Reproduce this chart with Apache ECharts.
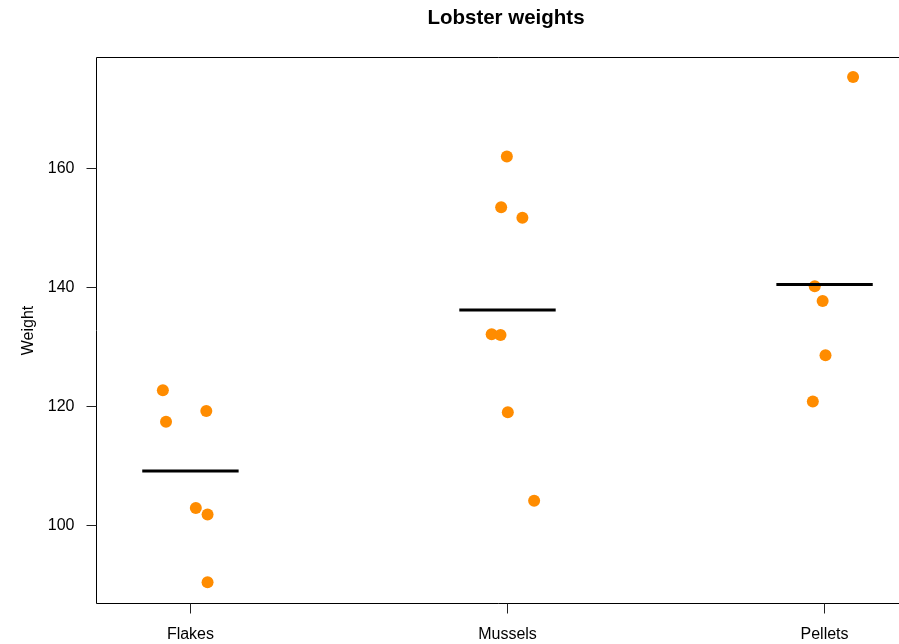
<!DOCTYPE html>
<html>
<head>
<meta charset="utf-8">
<script src="https://cdn.jsdelivr.net/npm/echarts@6/dist/echarts.min.js"></script>
<style>
html,body{margin:0;padding:0;background:#fff;}
#chart{width:899px;height:644px;}
</style>
</head>
<body>
<div id="chart"></div>
<script>
// ---- data ----
const categories = ["Flakes", "Mussels", "Pellets"];
const flakesWeight  = [122.7, 119.2, 117.4, 102.9, 101.8, 90.4];
const flakesJitter  = [-0.087, 0.050, -0.077, 0.017, 0.054, 0.054];
const musselsWeight = [162.0, 153.5, 151.7, 132.1, 132.0, 119.0, 104.1];
const musselsJitter = [-0.002, -0.020, 0.047, -0.050, -0.022, 0.001, 0.084];
const pelletsWeight = [175.4, 140.2, 137.7, 128.6, 120.8];
const pelletsJitter = [0.090, -0.031, -0.006, 0.003, -0.037];
const groupMeans = [109.1, 136.2, 140.5];
const yTicks = [100, 120, 140, 160];
const xTicks = [1, 2, 3];

const weights = [flakesWeight, musselsWeight, pelletsWeight];
const jitters = [flakesJitter, musselsJitter, pelletsJitter];

const pts = [];
weights.forEach((arr, g) => {
  arr.forEach((w, i) => pts.push([g + 1 + jitters[g][i], w]));
});

const HALF = 0.152;
const meanSeries = groupMeans.map((m, g) => ({
  type: 'line',
  data: [[g + 1 - HALF, m], [g + 1 + HALF, m]],
  symbol: 'none',
  silent: true,
  lineStyle: { color: '#000', width: 3, cap: 'butt' },
  z: 3
}));

const FONT = '"Liberation Sans", Arial, sans-serif';

const chart = echarts.init(document.getElementById('chart'), null, { renderer: 'canvas' });
chart.setOption({
  animation: false,
  backgroundColor: '#fff',
  title: {
    text: 'Lobster weights',
    left: 501,
    top: 3,
    textAlign: 'center',
    textStyle: { fontFamily: FONT, fontSize: 20.5, fontWeight: 'bold', color: '#000' }
  },
  grid: {
    left: 96.5, top: 57.5, width: 822, height: 546,
    outerBoundsMode: 'none',
    show: true, borderColor: '#000', borderWidth: 1, backgroundColor: 'transparent',
    containLabel: false
  },
  xAxis: {
    type: 'value',
    min: 0.7037, max: 3.2963,
    splitLine: { show: false },
    axisLine: { show: false },
    axisTick: { show: true, length: 10, inside: false, customValues: xTicks, lineStyle: { color: '#222', width: 1 } },
    axisLabel: {
      customValues: xTicks,
      formatter: v => categories[Math.round(v) - 1] || '',
      margin: 23,
      fontFamily: FONT, fontSize: 16, color: '#000'
    }
  },
  yAxis: {
    type: 'value',
    min: 86.83, max: 178.67,
    name: 'Weight',
    nameLocation: 'middle',
    nameRotate: 90,
    nameGap: 60,
    nameTextStyle: { fontFamily: FONT, fontSize: 16, color: '#000' },
    splitLine: { show: false },
    axisLine: { show: false },
    axisTick: { show: true, length: 10, inside: false, customValues: yTicks, lineStyle: { color: '#222', width: 1 } },
    axisLabel: {
      customValues: yTicks,
      margin: 22,
      fontFamily: FONT, fontSize: 16, color: '#000'
    }
  },
  series: [
    {
      type: 'scatter',
      data: pts,
      symbol: 'circle',
      symbolSize: 12,
      itemStyle: { color: '#FF8C00', opacity: 1 },
      silent: true,
      z: 2
    }
  ].concat(meanSeries)
});
</script>
</body>
</html>
